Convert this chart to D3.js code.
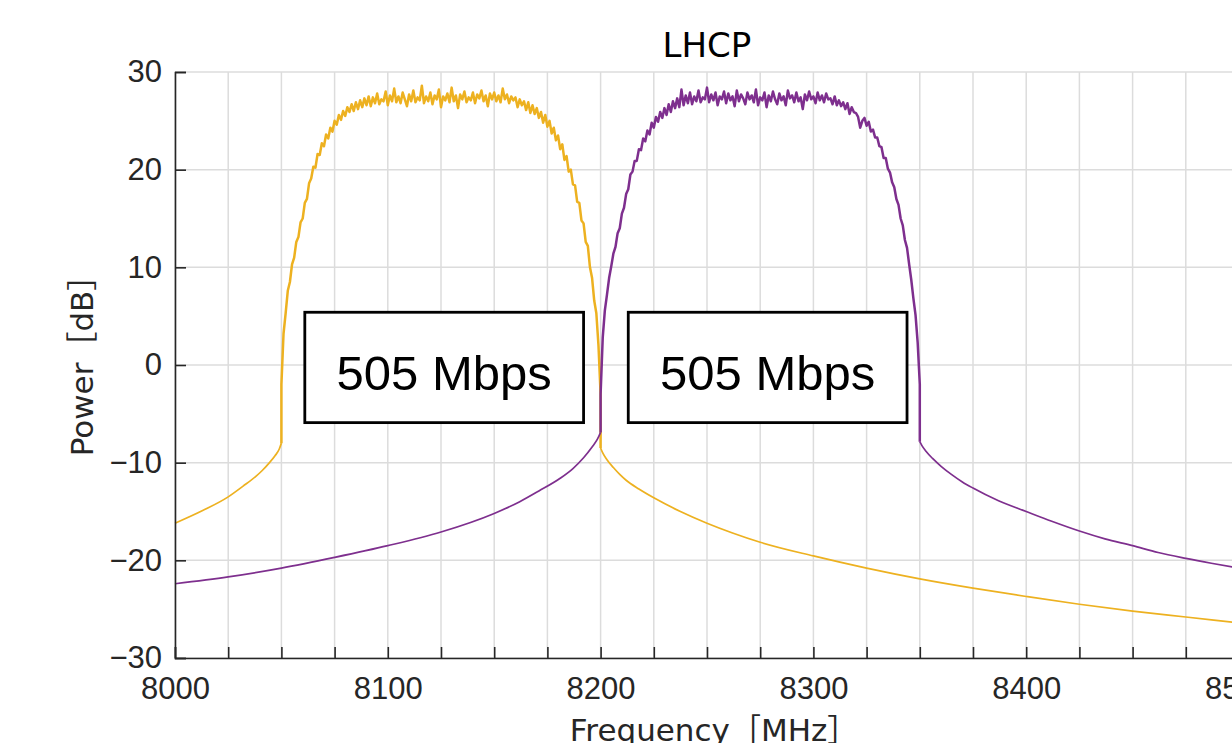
<!DOCTYPE html>
<html>
<head>
<meta charset="utf-8">
<script src="https://cdn.jsdelivr.net/npm/d3@7"></script>
<style>
  body { margin: 0; background: #fff; }
  text { font-family: 'DejaVu Sans', 'Noto Sans CJK JP', sans-serif; }
</style>
</head>
<body>
<script>
// Tick values
const xTicks = [8000, 8025, 8050, 8075, 8100, 8125, 8150, 8175, 8200, 8225, 8250,
  8275, 8300, 8325, 8350, 8375, 8400, 8425, 8450, 8475, 8500];
const yTicks = [-30, -20, -10, 0, 10, 20, 30];

// Yellow channel (8050 - 8200 MHz), [MHz, dB] outside the band
const yellowTailLeft = [[8000, -16.2], [8013, -14.9], [8025, -13.5], [8032, -12.4],
  [8038, -11.4], [8041, -10.8], [8044, -10.1], [8047, -9.3], [8049, -8.6], [8050, -8.0]];
// in-band power, one value per MHz from 8050
const yellowBandStart = 8050;
const yellowBand = [
  -2.0, 3.2, 5.3, 7.6, 8.5, 10.3, 11.0, 12.6, 13.1, 14.6,
  15.0, 16.6, 17.0, 18.6, 19.1, 20.3, 20.2, 21.6, 21.5, 22.7,
  22.4, 23.6, 23.2, 24.3, 23.9, 25.0, 24.6, 25.6, 25.1, 26.0,
  25.5, 26.4, 25.9, 26.7, 26.0, 26.9, 26.2, 27.1, 26.4, 27.3,
  26.6, 27.5, 26.5, 27.4, 26.8, 27.8, 26.7, 27.2, 27.0, 28.0,
  26.6, 27.6, 27.0, 28.3, 26.9, 27.5, 26.8, 27.9, 27.2, 26.5,
  27.7, 27.0, 28.1, 26.9, 27.4, 27.1, 28.6, 26.8, 27.5, 27.0,
  27.9, 26.7, 27.6, 27.2, 28.2, 26.4, 27.5, 27.1, 27.8, 26.9,
  28.4, 27.0, 27.6, 26.3, 27.7, 27.2, 28.0, 26.9, 27.4, 27.1,
  27.9, 26.8, 27.7, 27.3, 28.1, 27.0, 27.6, 26.5, 27.8, 27.2,
  27.9, 27.0, 27.6, 26.9, 28.3, 27.2, 27.7, 26.8, 27.5, 27.1,
  27.4, 26.4, 27.2, 26.6, 27.0, 26.1, 26.9, 25.8, 26.6, 25.7,
  26.3, 25.3, 25.9, 24.8, 25.6, 24.4, 25.0, 23.7, 24.3, 23.0,
  23.5, 22.1, 22.6, 21.0, 21.4, 19.8, 20.0, 18.5, 18.4, 16.7,
  16.6, 14.8, 14.5, 12.6, 12.2, 10.0, 8.9, 6.6, 5.3, 2.0, -3.0];
const yellowTailRight = [[8200, -8.5], [8201, -9.0], [8203, -9.7], [8206, -10.5],
  [8209, -11.2], [8212, -11.8], [8218, -12.7], [8225, -13.6], [8237, -14.95],
  [8250, -16.2], [8262, -17.2], [8275, -18.15], [8300, -19.55], [8325, -20.8],
  [8350, -21.9], [8375, -22.85], [8400, -23.7], [8425, -24.5], [8450, -25.2],
  [8475, -25.8], [8500, -26.4]];

// Purple channel (8200 - 8350 MHz)
const purpleTailLeft = [[8000, -22.4], [8025, -21.7], [8050, -20.8], [8075, -19.7],
  [8100, -18.5], [8125, -17.1], [8150, -15.2], [8162, -14.0], [8171, -12.9],
  [8181, -11.6], [8187, -10.6], [8192, -9.5], [8196, -8.4], [8198.5, -7.6], [8200, -6.9]];
const purpleBandStart = 8200;
const purpleBand = [
  -3.0, 2.8, 5.6, 7.2, 8.9, 10.1, 11.4, 12.1, 13.5, 14.0,
  15.5, 16.1, 17.5, 18.0, 19.5, 19.8, 20.9, 20.9, 22.1, 22.0,
  23.2, 22.9, 24.0, 23.6, 24.8, 24.3, 25.4, 24.9, 25.9, 25.3,
  26.3, 25.6, 26.7, 25.9, 27.0, 26.3, 27.3, 26.4, 28.2, 26.6,
  27.6, 26.8, 27.9, 26.7, 27.5, 27.0, 28.1, 26.9, 27.4, 27.2,
  28.4, 26.9, 27.7, 27.1, 27.9, 26.6, 27.5, 27.2, 28.0, 26.8,
  27.8, 27.1, 27.5, 26.5, 28.1, 27.0, 27.7, 27.3, 26.7, 27.9,
  27.2, 27.6, 26.9, 28.2, 26.6, 27.4, 27.1, 27.9, 26.4, 27.6,
  27.0, 28.0, 27.2, 26.7, 27.8, 27.1, 27.5, 26.6, 28.1, 27.3,
  27.6, 26.9, 27.9, 27.0, 27.4, 26.2, 27.7, 27.1, 28.0, 27.2,
  27.5, 26.8, 27.9, 27.1, 27.6, 26.9, 27.8, 27.2, 27.3, 26.7,
  27.5, 26.6, 27.1, 26.5, 26.9, 26.2, 26.8, 25.7, 26.4, 25.9,
  25.8, 25.4, 24.3, 25.0, 25.3, 24.5, 24.9, 23.9, 24.1, 23.3,
  23.3, 22.4, 22.3, 21.2, 21.2, 20.1, 19.7, 18.7, 18.2, 17.0,
  16.4, 15.0, 14.3, 12.8, 12.0, 10.3, 8.7, 6.8, 5.1, 2.3, -2.0];
const purpleTailRight = [[8350, -7.85], [8351, -8.25], [8353, -8.85], [8356, -9.57],
  [8360, -10.37], [8365, -11.22], [8370, -11.97], [8375, -12.6], [8387, -13.9],
  [8400, -15.0], [8412, -16.0], [8425, -17.0], [8437, -17.8], [8450, -18.5],
  [8462, -19.2], [8475, -19.8], [8487, -20.3], [8500, -20.8]];

// Data-rate boxes, in axis units
const rateLabels = ['505 Mbps', '505 Mbps'];
const rateFreqs = [[8061, 8192], [8213, 8344]];
const ratePower = [5.4, -5.9];

const width = 1232;
const height = 743;
const tickFont = "'Liberation Sans', Arial, sans-serif";

const body = d3.select('body');
const svg = body.append('svg').attr('width', width).attr('height', height);

// Scales
const x = d3.scaleLinear().domain([8000, 8500]).range([175, 1239]);
const y = d3.scaleLinear().domain([-30, 30]).range([658, 72]);

// Grid
svg
  .append('g')
  .selectAll('line')
  .data(xTicks)
  .enter()
  .append('line')
  .attr('x1', (d) => x(d))
  .attr('x2', (d) => x(d))
  .attr('y1', y(30))
  .attr('y2', y(-30))
  .attr('stroke', '#dcdcdc')
  .attr('stroke-width', 1.5);

svg
  .append('g')
  .selectAll('line')
  .data(yTicks)
  .enter()
  .append('line')
  .attr('x1', x(8000))
  .attr('x2', x(8500))
  .attr('y1', (d) => y(d))
  .attr('y2', (d) => y(d))
  .attr('stroke', '#dcdcdc')
  .attr('stroke-width', 1.5);

// Series: smooth tails, raw noisy band in between
const smooth = d3
  .line()
  .curve(d3.curveMonotoneX)
  .x((d) => x(d[0]))
  .y((d) => y(d[1]));

const raw = d3
  .line()
  .x((d) => x(d[0]))
  .y((d) => y(d[1]));

function drawChannel(tailLeft, bandStart, band, tailRight, color) {
  const bandPts = [
    tailLeft[tailLeft.length - 1],
    ...band.map((p, i) => [bandStart + i, p]),
    tailRight[0],
  ];
  const g = svg
    .append('g')
    .attr('fill', 'none')
    .attr('stroke', color)
    .attr('stroke-linejoin', 'round');
  g.append('path').attr('d', smooth(tailLeft)).attr('stroke-width', 1.7);
  g.append('path').attr('d', raw(bandPts)).attr('stroke-width', 2.5);
  g.append('path').attr('d', smooth(tailRight)).attr('stroke-width', 1.7);
}

drawChannel(yellowTailLeft, yellowBandStart, yellowBand, yellowTailRight, '#EDB120');
drawChannel(purpleTailLeft, purpleBandStart, purpleBand, purpleTailRight, '#7E2F8E');

// Axes (ticks pointing inwards, MATLAB style)
const xAxis = svg
  .append('g')
  .attr('transform', `translate(0, ${y(-30)})`)
  .call(
    d3
      .axisBottom(x)
      .tickValues(xTicks)
      .tickSize(-11)
      .tickPadding(19)
      .tickFormat((d) => (d % 100 === 0 ? d : ''))
  );

const yAxis = svg
  .append('g')
  .attr('transform', `translate(${x(8000)}, 0)`)
  .call(d3.axisLeft(y).tickValues(yTicks).tickSize(-11).tickPadding(13));

[xAxis, yAxis].forEach((a) => {
  a.select('.domain').attr('stroke', '#262626').attr('stroke-width', 1.6);
  a.selectAll('.tick line').attr('stroke', '#262626').attr('stroke-width', 1.6);
  a.selectAll('.tick text')
    .attr('fill', '#262626')
    .style('font-family', tickFont)
    .style('font-size', '31px');
});

// Labels (full-width brackets carry extra side bearing, so nudge the centre)
svg
  .append('text')
  .attr('x', (x(8000) + x(8500)) / 2)
  .attr('y', 57)
  .attr('text-anchor', 'middle')
  .style('font-size', '34px')
  .attr('fill', '#000')
  .text('LHCP');

svg
  .append('text')
  .attr('x', (x(8000) + x(8500)) / 2 + 7)
  .attr('y', 741)
  .attr('text-anchor', 'middle')
  .style('font-size', '31px')
  .attr('fill', '#262626')
  .text('Frequency［MHz］');

svg
  .append('text')
  .attr('transform', `translate(93, ${(y(30) + y(-30)) / 2 - 7}) rotate(-90)`)
  .attr('text-anchor', 'middle')
  .style('font-size', '31px')
  .attr('fill', '#262626')
  .text('Power［dB］');

// Data-rate boxes
const boxes = svg
  .append('g')
  .selectAll('g')
  .data(rateLabels)
  .enter()
  .append('g');

boxes
  .append('rect')
  .attr('x', (d, i) => x(rateFreqs[i][0]))
  .attr('y', y(ratePower[0]))
  .attr('width', (d, i) => x(rateFreqs[i][1]) - x(rateFreqs[i][0]))
  .attr('height', y(ratePower[1]) - y(ratePower[0]))
  .attr('fill', '#fff')
  .attr('stroke', '#000')
  .attr('stroke-width', 2.8);

boxes
  .append('text')
  .attr('x', (d, i) => (x(rateFreqs[i][0]) + x(rateFreqs[i][1])) / 2)
  .attr('y', 390)
  .attr('text-anchor', 'middle')
  .style('font-family', tickFont)
  .style('font-size', '49px')
  .attr('fill', '#000')
  .text((d) => d);
</script>
</body>
</html>
